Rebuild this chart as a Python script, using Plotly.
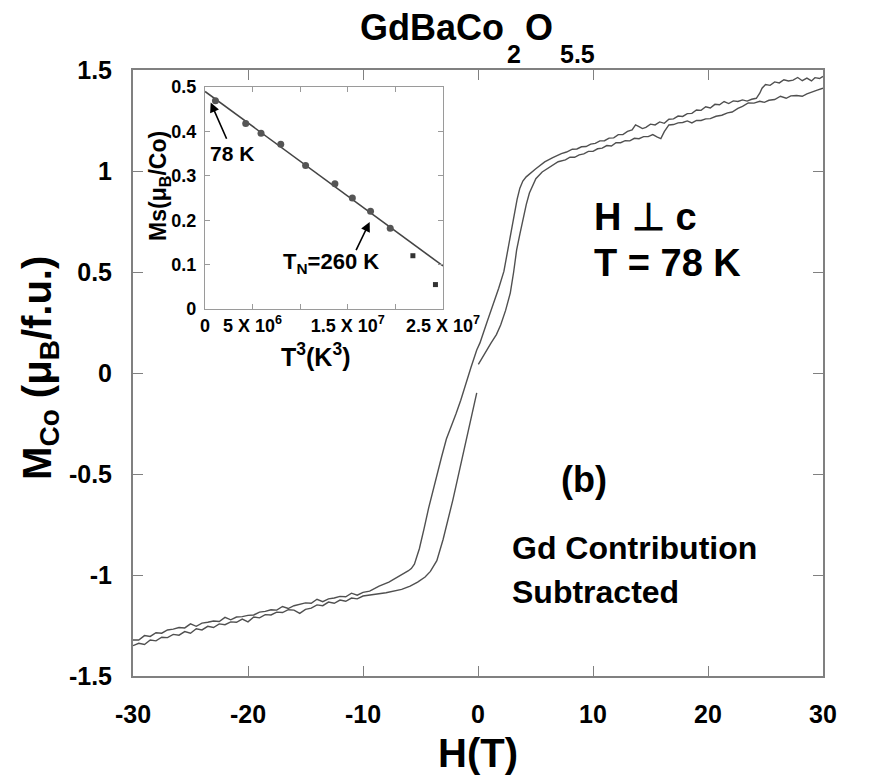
import plotly.graph_objects as go

# ---------------- data ----------------
# descending-field branch (H from +30 T to -30 T)
H_desc = [30.0, 29.7, 29.3, 29.0, 28.6, 28.2, 27.8, 27.4, 27.0, 26.6, 26.2, 25.8, 25.4, 25.0, 24.7, 24.5,
          24.2, 23.8, 23.4, 23.0, 22.6, 22.2, 21.8, 21.4, 21.0, 20.6, 20.2, 19.8, 19.4, 19.0, 18.6, 18.2,
          17.8, 17.4, 17.0, 16.6, 16.2, 15.8, 15.4, 15.0, 14.6, 14.3, 14.0, 13.7, 13.4, 13.0, 12.6, 12.2,
          11.8, 11.4, 11.0, 10.6, 10.2, 9.8, 9.4, 9.0, 8.6, 8.2, 7.7, 7.25,
          6.5, 5.8, 5.0, 4.5, 4.19, 3.9, 3.64, 3.4, 3.2, 2.81, 2.5, 2.25, 1.8, 1.42, 0.8, 0.17, -0.11,
          -0.6, -1.08, -1.5, -1.92, -2.4, -2.75, -3.17, -3.5, -3.86, -4.3, -4.69, -5.1, -5.53, -5.8,
          -6.08, -6.9, -7.75, -8.6, -9.42,
          -10.0, -10.5, -11.0, -11.5, -12.0, -12.5, -13.0, -13.5, -14.0, -14.5, -15.0, -15.5, -16.0,
          -16.5, -17.0, -17.5, -18.0, -18.5, -19.0, -19.5, -20.0, -20.5, -21.0, -21.5, -22.0, -22.5,
          -23.0, -23.5, -24.0, -24.5, -25.0, -25.5, -26.0, -26.5, -27.0, -27.5, -28.0, -28.5, -29.0,
          -29.5, -30.0]
M_desc = [1.468, 1.458, 1.462, 1.446, 1.460, 1.447, 1.463, 1.450, 1.446, 1.452, 1.436, 1.441, 1.424, 1.428, 1.410, 1.385,
          1.360, 1.355, 1.346, 1.352, 1.344, 1.347, 1.334, 1.344, 1.328, 1.330, 1.312, 1.318, 1.300, 1.302, 1.285, 1.284,
          1.270, 1.272, 1.258, 1.256, 1.236, 1.243, 1.228, 1.232, 1.216, 1.210, 1.220, 1.228, 1.204, 1.196, 1.180, 1.180,
          1.164, 1.163, 1.150, 1.149, 1.137, 1.133, 1.121, 1.120, 1.109, 1.108, 1.094, 1.086,
          1.066, 1.045, 1.010, 0.985, 0.971, 0.950, 0.915, 0.860, 0.800, 0.680, 0.580, 0.503, 0.420, 0.361, 0.255, 0.149, 0.114,
          0.030, -0.063, -0.135, -0.203, -0.270, -0.327, -0.416, -0.490, -0.558, -0.670, -0.770, -0.870, -0.946, -0.968,
          -0.980, -1.008, -1.035, -1.055, -1.080,
          -1.086, -1.100, -1.090, -1.108, -1.106, -1.114, -1.118, -1.132, -1.120, -1.140, -1.138, -1.146, -1.152,
          -1.166, -1.156, -1.174, -1.172, -1.180, -1.184, -1.198, -1.200, -1.206, -1.208, -1.222, -1.210, -1.230,
          -1.228, -1.234, -1.238, -1.254, -1.242, -1.262, -1.260, -1.268, -1.272, -1.288, -1.286, -1.304, -1.300,
          -1.322, -1.322]

# ascending-field branch (H from -30 T to +30 T); None = gap in the trace
H_asc = [-30.0, -29.5, -29.0, -28.5, -28.0, -27.5, -27.0, -26.5, -26.0, -25.5, -25.0, -24.5, -24.0, -23.5,
         -23.0, -22.5, -22.0, -21.5, -21.0, -20.5, -20.0, -19.5, -19.0, -18.5, -18.0, -17.5, -17.0, -16.5,
         -16.0, -15.5, -15.0, -14.5, -14.0, -13.5, -13.0, -12.5, -12.0, -11.5, -11.0, -10.5, -10.0,
         -9.42, -8.0, -6.64, -5.9, -5.25, -4.6, -4.14, -3.58, -3.03, -2.6, -2.19, -1.8, -1.36, -0.81, -0.4,
         -0.11, 0.0, 0.03, 0.6, 1.14, 1.6, 1.97, 2.4, 2.81, 3.1, 3.36, 3.65, 3.92, 4.2, 4.47, 4.75, 5.03,
         5.58, 6.14, 6.97,
         7.6, 8.0, 8.4, 8.8, 9.2, 9.6, 10.0, 10.4, 10.8, 11.2, 11.6, 12.0, 12.4, 12.8, 13.2, 13.6, 14.0,
         14.4, 14.8, 15.2, 15.6, 15.9, 16.2, 16.6, 17.0, 17.4, 17.8, 18.2, 18.6, 19.0, 19.4, 19.8, 20.2,
         20.7, 21.2, 21.7, 22.1, 22.6, 23.0, 23.5, 24.0, 24.5, 24.9, 25.3, 25.8, 26.3, 26.8, 27.2, 27.7,
         28.2, 28.6, 29.1, 29.5, 30.0]
M_asc = [-1.350, -1.338, -1.344, -1.322, -1.326, -1.308, -1.310, -1.294, -1.298, -1.280, -1.288, -1.266, -1.272, -1.254,
         -1.260, -1.242, -1.246, -1.232, -1.234, -1.218, -1.232, -1.208, -1.212, -1.196, -1.198, -1.184, -1.186, -1.172,
         -1.174, -1.190, -1.170, -1.164, -1.148, -1.152, -1.134, -1.140, -1.124, -1.130, -1.114, -1.118, -1.104,
         -1.100, -1.088, -1.071, -1.055, -1.035, -1.010, -0.982, -0.929, -0.823, -0.730, -0.629, -0.530, -0.416, -0.275, -0.170,
         -0.098, None, 0.043, 0.100, 0.149, 0.190, 0.238, 0.310, 0.397, 0.500, 0.609, 0.690, 0.768, 0.835, 0.891, 0.930, 0.962,
         0.995, 1.015, 1.046,
         1.055, 1.068, 1.068, 1.080, 1.085, 1.097, 1.097, 1.110, 1.113, 1.126, 1.124, 1.140, 1.140, 1.150, 1.149, 1.162, 1.160,
         1.170, 1.170, 1.180, 1.168, 1.160, 1.195, 1.228, 1.230, 1.238, 1.240, 1.248, 1.238, 1.250, 1.250, 1.258, 1.259,
         1.271, 1.276, 1.288, 1.292, 1.310, 1.320, 1.337, 1.336, 1.345, 1.340, 1.350, 1.354, 1.370, 1.360, 1.372, 1.374,
         1.370, 1.382, 1.390, 1.400, 1.410]

# inset: saturation moment vs T^3
T3_circ = [1.1e6, 4.28e6, 5.89e6, 7.96e6, 10.57e6, 13.65e6, 15.48e6, 17.39e6, 19.46e6]
Ms_circ = [0.469, 0.418, 0.396, 0.371, 0.323, 0.282, 0.250, 0.220, 0.182]
T3_sq = [21.84e6, 24.21e6]
Ms_sq = [0.120, 0.055]
T3_fit = [0.0, 2.5e7]
Ms_fit = [0.49, 0.097]

main_xticks = [-30, -20, -10, 0, 10, 20, 30]
main_yticks = [-1.5, -1.0, -0.5, 0.0, 0.5, 1.0, 1.5]
main_ylabels = ["-1.5", "-1", "-0.5", "0", "0.5", "1", "1.5"]
inset_xticks = [0, 5e6, 1e7, 1.5e7, 2e7, 2.5e7]
inset_xlabels = ["0", "5 X 10<sup>6</sup>", "", "1.5 X 10<sup>7</sup>", "", "2.5 X 10<sup>7</sup>"]
inset_yticks = [0, 0.1, 0.2, 0.3, 0.4, 0.5]
inset_ylabels = ["0", "0.1", "0.2", "0.3", "0.4", "0.5"]

# ---------------- layout geometry ----------------
W, HGT = 872, 782
L, R, T, B = 133, 20, 70, 106
PW, PH = W - L - R, HGT - T - B


def px(x):
    return (x - L) / PW


def py(y):
    return (HGT - B - y) / PH


FONT = "Liberation Sans, Arial, Helvetica, sans-serif"
LINE_C = "#505050"

fig = go.Figure()
fig.add_trace(go.Scatter(x=H_desc, y=M_desc, mode="lines", line=dict(color=LINE_C, width=1.4),
                         connectgaps=False, showlegend=False))
fig.add_trace(go.Scatter(x=H_asc, y=M_asc, mode="lines", line=dict(color=LINE_C, width=1.4),
                         connectgaps=False, showlegend=False))

fig.add_trace(go.Scatter(x=T3_fit, y=Ms_fit, mode="lines", line=dict(color="#444444", width=1.6),
                         xaxis="x2", yaxis="y2", showlegend=False, cliponaxis=True))
fig.add_trace(go.Scatter(x=T3_circ, y=Ms_circ, mode="markers",
                         marker=dict(symbol="circle", size=7, color="#555555"),
                         xaxis="x2", yaxis="y2", showlegend=False, cliponaxis=False))
fig.add_trace(go.Scatter(x=T3_sq, y=Ms_sq, mode="markers",
                         marker=dict(symbol="square", size=5, color="#333333"),
                         xaxis="x2", yaxis="y2", showlegend=False, cliponaxis=False))

frame_main = dict(showline=True, linecolor="#808080", linewidth=2, mirror="allticks",
                  ticks="inside", ticklen=10, tickwidth=1, tickcolor="#808080",
                  showgrid=False, zeroline=False,
                  tickfont=dict(family=FONT, size=25, color="black", weight=700))

inset_ax = dict(showline=True, linecolor="#9a9a9a", linewidth=1, mirror="allticks",
                ticks="inside", ticklen=5, tickcolor="#9a9a9a", showgrid=False, zeroline=False,
                tickfont=dict(family=FONT, size=18, color="black", weight=700))

fig.update_layout(
    width=W, height=HGT, autosize=False,
    margin=dict(l=L, r=R, t=T, b=B, pad=0),
    paper_bgcolor="white", plot_bgcolor="white",
    font=dict(family=FONT, color="black"),
    xaxis=dict(range=[-30, 30], tickvals=main_xticks, ticktext=[str(v) for v in main_xticks],
               domain=[0, 1], ticklabelstandoff=15, **frame_main),
    yaxis=dict(range=[-1.5, 1.5], tickvals=main_yticks, ticktext=main_ylabels,
               domain=[0, 1], ticklabelstandoff=14, **frame_main),
    xaxis2=dict(range=[0, 2.5e7], domain=[px(208), px(456)], anchor="y2",
                tickvals=inset_xticks, ticktext=inset_xlabels, ticklabelstandoff=0, **inset_ax),
    yaxis2=dict(range=[0, 0.5], domain=[py(309), py(87)], anchor="x2",
                tickvals=inset_yticks, ticktext=inset_ylabels, ticklabelstandoff=4, **inset_ax),
)

ann = []


def txt(text, x, y, size, xanchor="left", yanchor="middle", angle=0):
    ann.append(dict(text=text, x=px(x), y=py(y), xref="paper", yref="paper", showarrow=False,
                    xanchor=xanchor, yanchor=yanchor, textangle=angle,
                    font=dict(family=FONT, size=size, color="black", weight=700)))


# title with deep subscripts
txt("GdBaCo", 367, 27, 36)
txt("2", 521, 54, 25)
txt("O", 539, 27, 36)
txt("5.5", 576, 54, 25)

# axis titles
txt("H(T)", 492, 753, 40, xanchor="center")
txt("M<sub>Co</sub> (μ<sub>B</sub>/f.u.)", 36, 368, 40, xanchor="center", angle=-90)

# labels inside main plot
txt("H ⊥ c", 611, 217, 38)
txt("T = 78 K", 611, 263, 38)
txt("(b)", 577, 479, 36)
txt("Gd Contribution", 526, 548, 32)
txt("Subtracted", 526, 592, 32)

# inset titles / labels
txt("Ms(μ<sub>B</sub>/Co)", 160, 186, 23, xanchor="center", angle=-90)
txt("T<sup>3</sup>(K<sup>3</sup>)", 323, 355, 25, xanchor="center")
txt("78 K", 236, 153, 21, xanchor="center")
txt("T<sub>N</sub>=260 K", 287, 263, 22)

# arrows in the inset (data coordinates of inset)
for head, tail in [((0.6e6, 0.465), (2.34e6, 0.38)), ((17.3e6, 0.196), (15.8e6, 0.129))]:
    ann.append(dict(x=head[0], y=head[1], ax=tail[0], ay=tail[1], xref="x2", yref="y2",
                    axref="x2", ayref="y2", showarrow=True, arrowhead=2, arrowsize=1.2,
                    arrowwidth=1.6, arrowcolor="black", text=""))

fig.update_layout(annotations=ann)
fig.write_html("out.html")
